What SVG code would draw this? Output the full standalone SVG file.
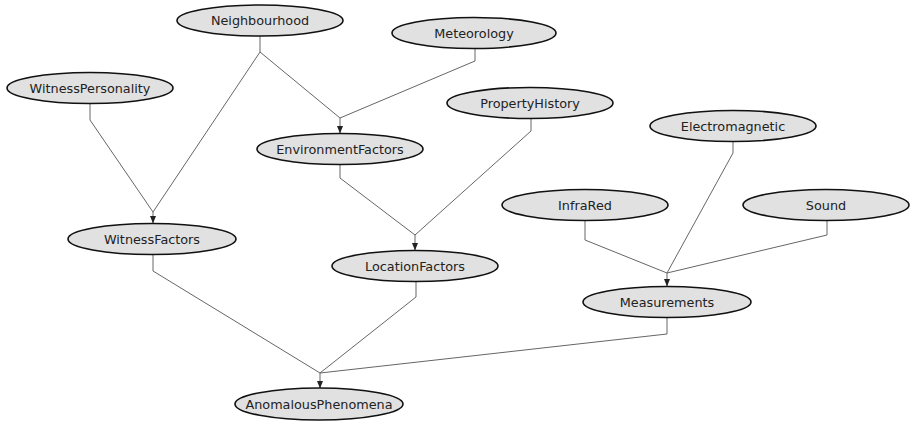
<svg xmlns="http://www.w3.org/2000/svg" width="910" height="422" viewBox="0 0 910 422">
<style>
.n ellipse{fill:#e1e1e1;stroke:#111;stroke-width:1.6}
.n text{font-family:"DejaVu Sans",Verdana,sans-serif;font-size:12.8px;fill:#222;text-anchor:middle;dominant-baseline:central}
.e polyline,.e line{fill:none;stroke:#666;stroke-width:1}
.e line{marker-end:url(#ah)}
</style>
<defs>
<marker id="ah" viewBox="0 0 8 8" refX="8" refY="4" markerWidth="8" markerHeight="8" markerUnits="userSpaceOnUse" orient="auto">
<path d="M0,0.8 L8,4 L0,7.2 Z" fill="#222"/>
</marker>
</defs>
<rect width="910" height="422" fill="#fff"/>
<g id="edges" class="e">
<polyline points="260,36 260,52 153,212"/>
<polyline points="260,52 340,118"/>
<polyline points="475,48 475,61 340,118"/>
<line x1="340" y1="118" x2="340" y2="133.5"/>
<polyline points="90,103.5 90,120 153,212"/>
<line x1="153" y1="212" x2="153" y2="223.5"/>
<polyline points="340,164.5 340,178 415,235"/>
<polyline points="531,118.5 531,131 415,235"/>
<line x1="415" y1="235" x2="415" y2="250.5"/>
<polyline points="733,141.5 733,153 667,273"/>
<polyline points="585,220.5 585,240 667,273"/>
<polyline points="827,220.5 827,235 667,273"/>
<line x1="667" y1="273" x2="667" y2="286.5"/>
<polyline points="153,254.5 153,271 320,373"/>
<polyline points="416,281.5 416,297 320,373"/>
<polyline points="667,317.5 667,334 320,373"/>
<line x1="320" y1="373" x2="320" y2="388.5"/>
</g>
<g id="Neighbourhood" class="n"><ellipse cx="260" cy="20.5" rx="83" ry="15.5"/><text x="260" y="20.5">Neighbourhood</text></g>
<g id="Meteorology" class="n"><ellipse cx="474" cy="33" rx="82" ry="15.5"/><text x="474" y="33">Meteorology</text></g>
<g id="WitnessPersonality" class="n"><ellipse cx="90" cy="88" rx="83" ry="15.5"/><text x="90" y="88">WitnessPersonality</text></g>
<g id="PropertyHistory" class="n"><ellipse cx="530" cy="103" rx="83" ry="15.5"/><text x="530" y="103">PropertyHistory</text></g>
<g id="Electromagnetic" class="n"><ellipse cx="733" cy="126" rx="83" ry="15.5"/><text x="733" y="126">Electromagnetic</text></g>
<g id="EnvironmentFactors" class="n"><ellipse cx="340" cy="149" rx="83" ry="15.5"/><text x="340" y="149">EnvironmentFactors</text></g>
<g id="InfraRed" class="n"><ellipse cx="585" cy="205" rx="83" ry="15.5"/><text x="585" y="205">InfraRed</text></g>
<g id="Sound" class="n"><ellipse cx="826" cy="205" rx="83" ry="15.5"/><text x="826" y="205">Sound</text></g>
<g id="WitnessFactors" class="n"><ellipse cx="152" cy="239" rx="84" ry="15.5"/><text x="152" y="239">WitnessFactors</text></g>
<g id="LocationFactors" class="n"><ellipse cx="415" cy="266" rx="83" ry="15.5"/><text x="415" y="266">LocationFactors</text></g>
<g id="Measurements" class="n"><ellipse cx="667" cy="302" rx="84" ry="15.5"/><text x="667" y="302">Measurements</text></g>
<g id="AnomalousPhenomena" class="n"><ellipse cx="319" cy="404" rx="84" ry="16"/><text x="319" y="404">AnomalousPhenomena</text></g>
</svg>
